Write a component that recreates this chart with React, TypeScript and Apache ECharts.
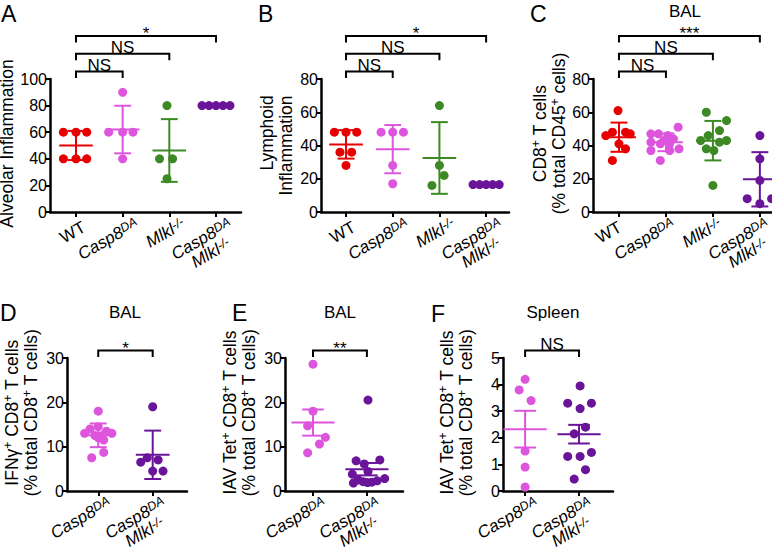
import React, { useEffect, useRef } from 'react';
import * as echarts from 'echarts';

const RED = '#e60000';
const PINK = '#dd55dd';
const GREEN = '#3d8a24';
const PURPLE = '#6a1599';
const FONT = '"Liberation Sans", Arial, sans-serif';

// category labels
const catsFour = ['WT', 'Casp8DA', 'Mlkl-/-', 'Casp8DA Mlkl-/-'];
const catsTwo = ['Casp8DA', 'Casp8DA Mlkl-/-'];

// Panel A: Alveolar inflammation
const aWT = [60, 60, 60, 40, 40, 40];
const aWTj = [-0.27, 0, 0.23, -0.27, 0, 0.23];
const aCasp = [90, 60, 60, 60, 40];
const aCaspj = [0, -0.3, 0, 0.22, 0];
const aMlkl = [80, 40, 40, 25];
const aMlklj = [-0.05, -0.21, 0.07, -0.05];
const aDko = [80, 80, 80, 80, 80];
const aDkoj = [-0.3, -0.15, 0, 0.15, 0.3];

// Panel B: Lymphoid inflammation
const bWT = [48, 48, 48, 36, 36, 28];
const bWTj = [-0.25, 0, 0.23, -0.13, 0.12, 0];
const bCasp = [48, 48, 48, 28, 17];
const bCaspj = [-0.25, 0, 0.23, 0, 0];
const bMlkl = [64, 28, 22, 16];
const bMlklj = [0, 0, 0.1, -0.16];
const bDko = [16.5, 16.5, 16.5, 16.5, 16.5];
const bDkoj = [-0.28, -0.14, 0, 0.14, 0.28];

// Panel C: CD8+ T cells (% CD45+)
const cWT = [61, 48, 48, 47, 46, 41, 38, 31];
const cWTj = [-0.02, -0.14, 0.14, 0.24, -0.28, 0, 0.14, -0.14];
const cCasp = [51, 47, 47, 46, 44, 43, 42, 41, 41, 38, 37, 37, 31];
const cCaspj = [0.26, -0.32, -0.16, 0.04, 0.16, -0.04, -0.32, 0.08, -0.12, 0.28, -0.32, 0.08, -0.12];
const cMlkl = [60, 55, 49, 46, 43, 43, 42, 38, 37, 16];
const cMlklj = [-0.14, 0.29, 0.14, -0.1, -0.26, 0.29, 0.14, -0.14, 0.02, 0];
const cDko = [46, 32, 19, 8, 8, 5];
const cDkoj = [0, 0, 0, -0.27, 0.25, 0];

// Panel D: IFNg+ CD8+ (BAL)
const dCasp = [18, 14.5, 14, 13.5, 13, 13, 12.5, 12.5, 12, 11.5, 8.7, 7.5];
const dCaspj = [0, 0, -0.15, 0.15, -0.25, 0.25, -0.06, 0.07, 0, 0.1, 0.1, -0.12];
const dDko = [19, 7.5, 7, 6.5, 4.5, 4.5];
const dDkoj = [0, -0.1, 0.1, -0.22, 0, 0.19];

// Panel E: IAV Tet+ CD8+ (BAL)
const eCasp = [28.6, 18, 14.7, 12.1, 10.6, 8.6];
const eCaspj = [0, 0, -0.1, 0.23, 0.12, -0.1];
const eDko = [20.5, 7, 6.8, 6.1, 4.4, 3.8, 2.8, 2.5, 2.3, 2.1, 2, 1.9, 1.8];
const eDkoj = [0.02, 0.24, -0.2, -0.05, 0.02, -0.27, 0.33, -0.16, 0.19, -0.07, 0.09, 0.01, -0.25];

// Panel F: IAV Tet+ CD8+ (Spleen)
const fCasp = [4.2, 3.8, 3.4, 1.5, 0.9, 0.15];
const fCaspj = [0, -0.11, 0.11, 0, 0, 0];
const fDko = [3.95, 3.3, 3.3, 3.1, 2.4, 2.15, 1.45, 1.3, 1.3, 0.8, 0.45];
const fDkoj = [0.02, -0.21, 0.23, 0.02, 0.12, -0.09, 0.23, -0.21, 0.02, 0.12, -0.09];

// significance brackets: [from, to, level]
const bracketsFour = [[0, 1, 0], [0, 2, 1], [0, 3, 2]];
const bracketsTwo = [[0, 1, 0]];
const sigA = ['NS', 'NS', '*'];
const sigB = ['NS', 'NS', '*'];
const sigC = ['NS', 'NS', '***'];
const sigD = ['*'];
const sigE = ['**'];
const sigF = ['NS'];

// axis names
const nameA = 'Alveolar Inflammation';
const nameB = '{pB|Lymphoid}\nInflammation';
const nameC = 'CD8{s|+} T cells\n(% total CD45{s|+} cells)';
const nameD = 'IFNγ{s|+} CD8{s|+} T cells\n(% total CD8{s|+} T cells)';
const nameE = 'IAV Tet{s|+} CD8{s|+} T cells\n(% total CD8{s|+} T cells)';
const nameF = 'IAV Tet{s|+} CD8{s|+} T cells\n(% total CD8{s|+} T cells)';

const richLabel: Record<string, string> = {
  'WT': '{n|WT}',
  'Casp8DA': '{i|Casp8}{s|DA}',
  'Mlkl-/-': '{i|Mlkl}{s|-/-}',
  'Casp8DA Mlkl-/-': '{i|Casp8}{s|DA}\n{i|Mlkl}{s2|-/-}',
};

function mean(a: number[]) { return a.reduce((s, v) => s + v, 0) / a.length; }
function sd(a: number[]) {
  const m = mean(a);
  return Math.sqrt(a.reduce((s, v) => s + (v - m) * (v - m), 0) / (a.length - 1));
}
function sem(a: number[]) { return sd(a) / Math.sqrt(a.length); }

type Group = { v: number[]; j: number[]; c: string };
type Panel = {
  grid: any; xMin: number; xMax: number; yMax: number; yInt: number; cats: string[];
  name: string; nameGap: number; nameShift: number; labelShift: number; groups: Group[]; err: 'sd' | 'sem'; half: number; cap: number;
  brackets: number[][]; sig: string[];
};

const panels: Panel[] = [
  {
    grid: { left: 50, top: 79, width: 191, height: 133 }, xMin: -0.557, xMax: 3.536, yMax: 100, yInt: 20,
    cats: catsFour, name: nameA, nameGap: 25, nameShift: 4, labelShift: 10, err: 'sd', half: 0.36, cap: 0.18, brackets: bracketsFour, sig: sigA,
    groups: [{ v: aWT, j: aWTj, c: RED }, { v: aCasp, j: aCaspj, c: PINK }, { v: aMlkl, j: aMlklj, c: GREEN }, { v: aDko, j: aDkoj, c: PURPLE }],
  },
  {
    grid: { left: 321, top: 79, width: 188, height: 133 }, xMin: -0.536, xMax: 3.49, yMax: 80, yInt: 20,
    cats: catsFour, name: nameB, nameGap: 26, nameShift: 0, labelShift: 10, err: 'sd', half: 0.36, cap: 0.18, brackets: bracketsFour, sig: sigB,
    groups: [{ v: bWT, j: bWTj, c: RED }, { v: bCasp, j: bCaspj, c: PINK }, { v: bMlkl, j: bMlklj, c: GREEN }, { v: bDko, j: bDkoj, c: PURPLE }],
  },
  {
    grid: { left: 593, top: 79, width: 188, height: 133 }, xMin: -0.553, xMax: 3.45, yMax: 80, yInt: 20,
    cats: catsFour, name: nameC, nameGap: 24, nameShift: 24, labelShift: 3, err: 'sd', half: 0.36, cap: 0.18, brackets: bracketsFour, sig: sigC,
    groups: [{ v: cWT, j: cWTj, c: RED }, { v: cCasp, j: cCaspj, c: PINK }, { v: cMlkl, j: cMlklj, c: GREEN }, { v: cDko, j: cDkoj, c: PURPLE }],
  },
  {
    grid: { left: 67, top: 358, width: 120, height: 133 }, xMin: -0.574, xMax: 1.63, yMax: 30, yInt: 10,
    cats: catsTwo, name: nameD, nameGap: 27, nameShift: 24, labelShift: 7, err: 'sd', half: 0.31, cap: 0.155, brackets: bracketsTwo, sig: sigD,
    groups: [{ v: dCasp, j: dCaspj, c: PINK }, { v: dDko, j: dDkoj, c: PURPLE }],
  },
  {
    grid: { left: 285, top: 358, width: 118, height: 133 }, xMin: -0.52, xMax: 1.67, yMax: 30, yInt: 10,
    cats: catsTwo, name: nameE, nameGap: 27, nameShift: 24, labelShift: 7, err: 'sem', half: 0.4, cap: 0.2, brackets: bracketsTwo, sig: sigE,
    groups: [{ v: eCasp, j: eCaspj, c: PINK }, { v: eDko, j: eDkoj, c: PURPLE }],
  },
  {
    grid: { left: 503, top: 358, width: 110, height: 133 }, xMin: -0.41, xMax: 1.63, yMax: 5, yInt: 1,
    cats: catsTwo, name: nameF, nameGap: 28, nameShift: 24, labelShift: 7, err: 'sem', half: 0.4, cap: 0.2, brackets: bracketsTwo, sig: sigF,
    groups: [{ v: fCasp, j: fCaspj, c: PINK }, { v: fDko, j: fDkoj, c: PURPLE }],
  },
];

const letters = [
  { t: 'A', x: 1, y: 2 }, { t: 'B', x: 258, y: 2 }, { t: 'C', x: 530, y: 2 },
  { t: 'D', x: 0, y: 301 }, { t: 'E', x: 232, y: 301 }, { t: 'F', x: 431, y: 302 },
];
const titles = [
  { t: 'BAL', x: 685, y: 11 }, { t: 'BAL', x: 125, y: 312 }, { t: 'BAL', x: 340, y: 312 }, { t: 'Spleen', x: 553, y: 312 },
];

function buildOption() {
  const grid: any[] = [];
  const xAxis: any[] = [];
  const yAxis: any[] = [];
  const series: any[] = [];
  panels.forEach((p, pi) => {
    grid.push({ ...p.grid, outerBoundsMode: 'none', containLabel: false });
    const ticks = p.cats.map((_, i) => i);
    const unitPx = p.grid.width / (p.xMax - p.xMin);
    const sh = p.labelShift / unitPx;
    xAxis.push({
      type: 'value', gridIndex: pi, min: p.xMin, max: p.xMax,
      splitLine: { show: false },
      axisLine: { show: true, onZero: false, lineStyle: { color: '#000', width: 2.5 } },
      axisTick: { show: true, customValues: ticks, length: 5, lineStyle: { color: '#000', width: 2 } },
      axisLabel: {
        show: true, customValues: ticks.map((t) => t + sh), rotate: 30, margin: 3, color: '#000', hideOverlap: false,
        align: 'right', verticalAlign: 'top',
        formatter: (v: number) => richLabel[p.cats[Math.round(v - sh)]] || '',
        rich: {
          n: { fontSize: 17, lineHeight: 17, fontFamily: FONT, color: '#000', padding: [0, 7, 0, 0] },
          i: { fontSize: 17, lineHeight: 17, fontFamily: FONT, fontStyle: 'italic', color: '#000' },
          s: { fontSize: 12.5, lineHeight: 12, fontFamily: FONT, fontStyle: 'italic', verticalAlign: 'top', color: '#000' },
          s2: { fontSize: 12.5, lineHeight: 12, fontFamily: FONT, fontStyle: 'italic', verticalAlign: 'top', color: '#000', padding: [0, 11, 0, 0] },
        },
      },
    });
    yAxis.push({
      type: 'value', gridIndex: pi, min: 0, max: p.yMax, interval: p.yInt,
      splitLine: { show: false },
      axisLine: { show: true, onZero: false, lineStyle: { color: '#000', width: 2.5 } },
      axisTick: { show: true, length: 5, lineStyle: { color: '#000', width: 2 } },
      axisLabel: { color: '#000', fontSize: 16, fontFamily: FONT, margin: 3 },
      name: p.name, nameLocation: 'middle', nameRotate: 90, nameGap: p.nameGap,
      nameTextStyle: {
        color: '#000', fontSize: 17.5, fontFamily: FONT, lineHeight: 19,
        padding: [0, 0, 0, p.nameShift],
        rich: {
          s: { fontSize: 12, lineHeight: 12, verticalAlign: 'top', fontFamily: FONT, color: '#000' },
          pB: { fontSize: 17.5, lineHeight: 19, fontFamily: FONT, color: '#000', padding: [0, 0, 0, 25] },
        },
      },
    });
    p.groups.forEach((g, gi) => {
      series.push({
        type: 'scatter', xAxisIndex: pi, yAxisIndex: pi, symbol: 'circle', symbolSize: 9, z: 2,
        itemStyle: { color: g.c, opacity: 1 },
        data: g.v.map((v, k) => [gi + g.j[k], v]),
      });
      const m = mean(g.v);
      const e = p.err === 'sd' ? sd(g.v) : sem(g.v);
      const half = p.half, cap = p.cap;
      series.push({
        type: 'custom', xAxisIndex: pi, yAxisIndex: pi, z: 3, clip: false,
        itemStyle: { color: g.c },
        data: [[gi, m, e]],
        renderItem: (params: any, api: any) => {
          const x = api.value(0), mm = api.value(1), ee = api.value(2);
          const unit = api.size([1, 0])[0];
          const c = api.coord([x, mm]);
          const t = api.coord([x, mm + ee]);
          const b = api.coord([x, mm - ee]);
          const style = { stroke: g.c, lineWidth: 2, fill: null };
          return {
            type: 'group', children: [
              { type: 'line', shape: { x1: c[0] - half * unit, y1: c[1], x2: c[0] + half * unit, y2: c[1] }, style },
              { type: 'line', shape: { x1: t[0], y1: t[1], x2: b[0], y2: b[1] }, style },
              { type: 'line', shape: { x1: t[0] - cap * unit, y1: t[1], x2: t[0] + cap * unit, y2: t[1] }, style },
              { type: 'line', shape: { x1: b[0] - cap * unit, y1: b[1], x2: b[0] + cap * unit, y2: b[1] }, style },
            ],
          };
        },
      });
    });
    series.push({
      type: 'custom', xAxisIndex: pi, yAxisIndex: pi, z: 4, clip: false,
      data: p.brackets,
      renderItem: (params: any, api: any) => {
        const x1 = api.coord([api.value(0), 0])[0];
        const x2 = api.coord([api.value(1), 0])[0];
        const top = params.coordSys.y;
        const yl = top - 7.5 - api.value(2) * 17.7;
        const txt = p.sig[params.dataIndex];
        const star = txt.indexOf('*') >= 0;
        return {
          type: 'group', children: [
            { type: 'polyline', shape: { points: [[x1, yl + 6.5], [x1, yl], [x2, yl], [x2, yl + 6.5]] }, style: { stroke: '#000', lineWidth: 2, fill: null } },
            { type: 'text', x: (x1 + x2) / 2, y: star ? yl + 6 : yl + 2, style: { text: txt, fill: '#000', font: `17px ${FONT}`, align: 'center', verticalAlign: 'bottom' } },
          ],
        };
      },
    });
  });

  const graphic: any[] = [];
  letters.forEach((l) => graphic.push({ type: 'text', x: l.x, y: l.y, style: { text: l.t, fill: '#000', font: `23px ${FONT}`, align: 'left', verticalAlign: 'top' } }));
  titles.forEach((l) => graphic.push({ type: 'text', x: l.x, y: l.y, style: { text: l.t, fill: '#000', font: `17px ${FONT}`, align: 'center', verticalAlign: 'middle' } }));

  return {
    animation: false,
    backgroundColor: '#fff',
    textStyle: { fontFamily: FONT },
    grid, xAxis, yAxis, series, graphic,
  };
}

export default function App() {
  const ref = useRef<HTMLDivElement>(null);
  useEffect(() => {
    if (!ref.current) return;
    const chart = echarts.init(ref.current, undefined, { renderer: 'svg' });
    chart.setOption(buildOption() as any);
    return () => chart.dispose();
  }, []);
  return <div ref={ref} style={{ position: 'fixed', left: 0, top: 0, width: 772, height: 549, background: '#fff' }} />;
}
